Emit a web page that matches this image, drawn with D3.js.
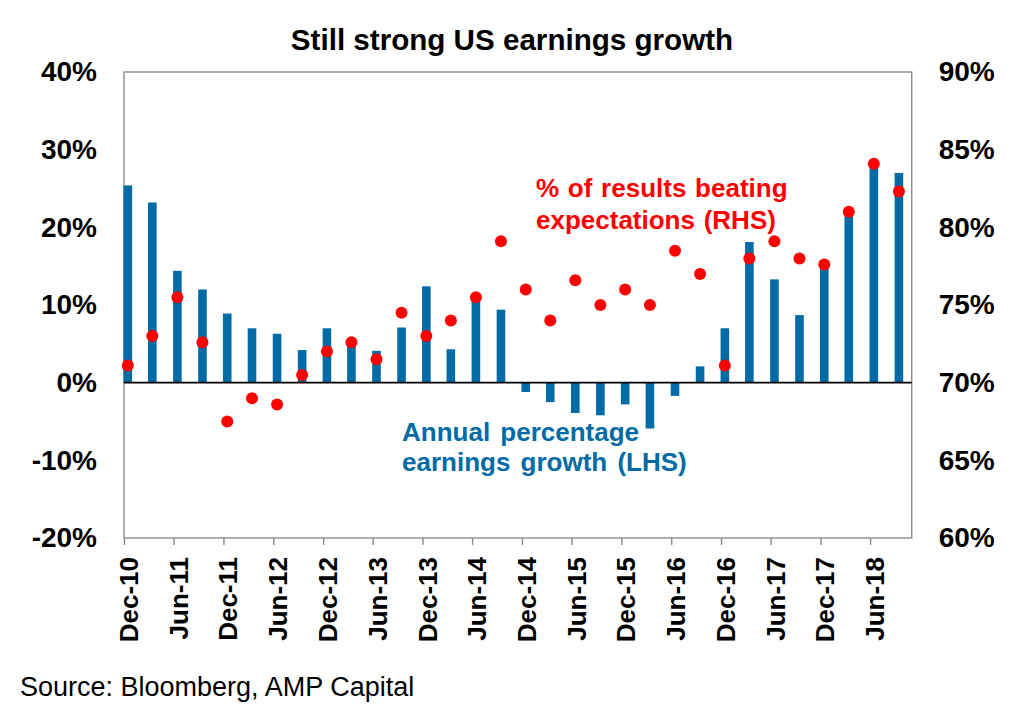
<!DOCTYPE html>
<html>
<head>
<meta charset="utf-8">
<script src="https://cdn.jsdelivr.net/npm/d3@7"></script>
<style>
  html, body { margin: 0; padding: 0; background: #fff; }
  svg { display: block; font-family: "Liberation Sans", Arial, sans-serif; }
</style>
</head>
<body>
<svg id="chart" width="1024" height="716"></svg>
<script>
// ---- data ----
const quarters = ["Dec-10","Mar-11","Jun-11","Sep-11","Dec-11","Mar-12","Jun-12","Sep-12",
  "Dec-12","Mar-13","Jun-13","Sep-13","Dec-13","Mar-14","Jun-14","Sep-14",
  "Dec-14","Mar-15","Jun-15","Sep-15","Dec-15","Mar-16","Jun-16","Sep-16",
  "Dec-16","Mar-17","Jun-17","Sep-17","Dec-17","Mar-18","Jun-18","Sep-18"];
const earningsGrowth = [25.4, 23.2, 14.4, 12.0, 8.9, 7.0, 6.3, 4.2,
  7.0, 5.0, 4.1, 7.1, 12.4, 4.3, 10.8, 9.4,
  -1.2, -2.5, -3.9, -4.2, -2.8, -5.9, -1.7, 2.1,
  7.0, 18.1, 13.3, 8.7, 14.8, 22.0, 28.0, 27.0];
const beatRate = [71.1, 73.0, 75.5, 72.6, 67.5, 69.0, 68.6, 70.5,
  72.0, 72.6, 71.5, 74.5, 73.0, 74.0, 75.5, 79.1,
  76.0, 74.0, 76.6, 75.0, 76.0, 75.0, 78.5, 77.0,
  71.1, 78.0, 79.1, 78.0, 77.6, 81.0, 84.1, 82.3];
const xTickLabels = ["Dec-10","Jun-11","Dec-11","Jun-12","Dec-12","Jun-13","Dec-13","Jun-14",
  "Dec-14","Jun-15","Dec-15","Jun-16","Dec-16","Jun-17","Dec-17","Jun-18"];
const leftTicks = [-20, -10, 0, 10, 20, 30, 40];
const rightTicks = [60, 65, 70, 75, 80, 85, 90];
const xDomainLabels = ["Dec-10", "Nov-18"];

// ---- layout ----
const svg = d3.select("#chart");
const L = 124, R = 911.7, T = 72, B = 538;
const parse = d3.timeParse("%b-%y");
const barColor = "#006BA6";
const dotColor = "#FF0000";

const x = d3.scaleTime().domain(xDomainLabels.map(parse)).range([L, R]);
const yL = d3.scaleLinear().domain([-20, 40]).range([B, T]);
const yR = d3.scaleLinear().domain([60, 90]).range([B, T]);

const data = quarters.map((q, i) => ({
  date: d3.timeDay.offset(parse(q), 14),
  g: earningsGrowth[i],
  b: beatRate[i]
}));

// title
svg.append("text").attr("x", 512).attr("y", 50).attr("text-anchor", "middle")
  .attr("font-size", 29.6).attr("font-weight", "bold").attr("fill", "#000")
  .text("Still strong US earnings growth");

// frame
svg.append("rect").attr("x", L).attr("y", T).attr("width", R - L).attr("height", B - T)
  .attr("fill", "none").attr("stroke", "#8c8c8c").attr("stroke-width", 1.4);

// bars
const bw = 8.6;
svg.append("g").selectAll("rect").data(data).join("rect")
  .attr("x", d => x(d.date) - bw / 2)
  .attr("width", bw)
  .attr("y", d => yL(Math.max(0, d.g)))
  .attr("height", d => Math.abs(yL(d.g) - yL(0)))
  .attr("fill", barColor);

// zero line
svg.append("line").attr("x1", L).attr("x2", R).attr("y1", yL(0)).attr("y2", yL(0))
  .attr("stroke", "#000").attr("stroke-width", 1.6);

// dots
svg.append("g").selectAll("circle").data(data).join("circle")
  .attr("cx", d => x(d.date)).attr("cy", d => yR(d.b)).attr("r", 6)
  .attr("fill", dotColor);

// bottom axis
const xAxis = d3.axisBottom(x).tickValues(xTickLabels.map(parse))
  .tickSize(7).tickFormat("");
const gx = svg.append("g").attr("transform", `translate(0,${B})`).call(xAxis);
gx.select(".domain").remove();
gx.selectAll(".tick line").attr("stroke", "#8c8c8c").attr("stroke-width", 1.4);

svg.append("g").selectAll("text").data(xTickLabels).join("text")
  .attr("transform", d => `translate(${x(parse(d))},557) rotate(-90)`)
  .attr("text-anchor", "end").attr("y", 14)
  .attr("font-size", 26).attr("font-weight", "bold").attr("fill", "#000")
  .text(d => d);

// left axis labels
const yAxisL = d3.axisLeft(yL).tickValues(leftTicks).tickSize(0).tickPadding(27)
  .tickFormat(d => d + "%");
const gl = svg.append("g").attr("transform", `translate(${L},0)`).call(yAxisL);
gl.select(".domain").remove();
gl.selectAll(".tick text").attr("font-size", 28).attr("font-weight", "bold")
  .attr("fill", "#000").attr("font-family", "Liberation Sans, Arial, sans-serif");

// right axis labels
const yAxisR = d3.axisRight(yR).tickValues(rightTicks).tickSize(0).tickPadding(27)
  .tickFormat(d => d + "%");
const gr = svg.append("g").attr("transform", `translate(${R},0)`).call(yAxisR);
gr.select(".domain").remove();
gr.selectAll(".tick text").attr("font-size", 28).attr("font-weight", "bold")
  .attr("fill", "#000").attr("font-family", "Liberation Sans, Arial, sans-serif");

// annotations
const red = svg.append("text").attr("font-size", 26).attr("font-weight", "bold")
  .attr("fill", dotColor).attr("word-spacing", 1.5);
red.append("tspan").attr("x", 536).attr("y", 197).text("% of results beating");
red.append("tspan").attr("x", 536).attr("y", 229).text("expectations (RHS)");

const blue = svg.append("text").attr("font-size", 26).attr("font-weight", "bold")
  .attr("fill", barColor).attr("word-spacing", 3);
blue.append("tspan").attr("x", 402).attr("y", 441).text("Annual percentage");
blue.append("tspan").attr("x", 402).attr("y", 471).text("earnings growth (LHS)");

// source
svg.append("text").attr("x", 20).attr("y", 696).attr("font-size", 27)
  .attr("fill", "#000").text("Source: Bloomberg, AMP Capital");
</script>
</body>
</html>
